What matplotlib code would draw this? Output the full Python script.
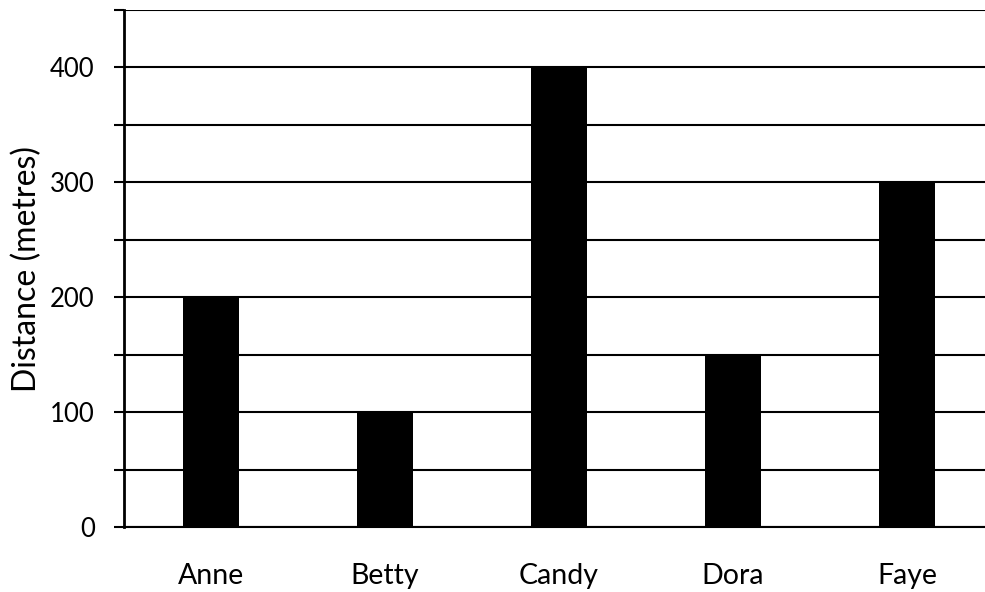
import matplotlib
matplotlib.use("Agg")
import matplotlib.pyplot as plt
from matplotlib.ticker import MultipleLocator

names = ["Anne", "Betty", "Candy", "Dora", "Faye"]
distances = [200, 100, 400, 150, 300]

plt.rcParams['font.family'] = ['Lato', 'DejaVu Sans']

fig = plt.figure(figsize=(9.85, 5.92), dpi=100)
ax = fig.add_axes([124/985, 1-527/592, 870/985, (527-10)/592])

x = range(len(names))
ax.bar(x, distances, width=0.317, color='black', zorder=3)
ax.set_xlim(-0.5, len(names)-0.5)
ax.set_ylim(0, 450)
ax.yaxis.set_major_locator(MultipleLocator(100))
ax.yaxis.set_minor_locator(MultipleLocator(50))
ax.grid(axis='y', which='both', color='black', linewidth=1.5, zorder=1)
ax.set_xticks(list(x))
ax.set_xticklabels(names, fontsize=20.5)
ax.tick_params(axis='x', length=0, pad=26)
ax.tick_params(axis='y', which='both', length=7, width=1.5, color='black', labelsize=18.5, pad=14)
for s in ['top', 'right']:
    ax.spines[s].set_visible(False)
ax.spines['left'].set_linewidth(2)
ax.spines['bottom'].set_linewidth(1.5)
ax.set_ylabel("Distance (metres)", fontsize=23, labelpad=6)

fig.savefig("out.png", dpi=100)
